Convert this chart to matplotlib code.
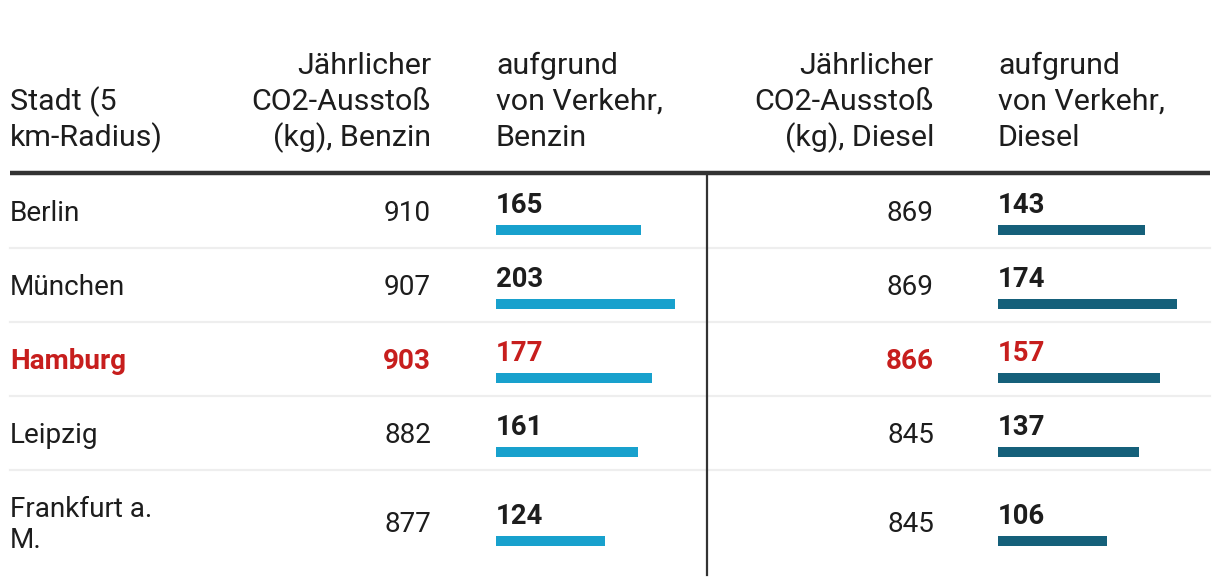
import matplotlib.pyplot as plt

plt.rcParams["font.family"] = ["Roboto", "DejaVu Sans"]

# --- Daten ---
staedte = ["Berlin", "München", "Hamburg", "Leipzig", "Frankfurt a.\nM."]
benzin_gesamt = [910, 907, 903, 882, 877]
benzin_verkehr = [165, 203, 177, 161, 124]
diesel_gesamt = [869, 869, 866, 845, 845]
diesel_verkehr = [143, 174, 157, 137, 106]
hervorgehoben = "Hamburg"

kopf = [
    ["Stadt (5", "km-Radius)"],
    ["Jährlicher", "CO2-Ausstoß", "(kg), Benzin"],
    ["aufgrund", "von Verkehr,", "Benzin"],
    ["Jährlicher", "CO2-Ausstoß", "(kg), Diesel"],
    ["aufgrund", "von Verkehr,", "Diesel"],
]

# --- Stil ---
W, H = 1220, 584
TEXT = "#1d1d1d"
RED = "#c71e1d"
BENZIN = "#18a1cd"
DIESEL = "#15607a"
FS = 20.1
FS_NUM = 19.8
FS_HEAD = 21.9

fig = plt.figure(figsize=(W / 100, H / 100), dpi=100)
ax = fig.add_axes([0, 0, 1, 1])
ax.set_xlim(0, W)
ax.set_ylim(H, 0)
ax.axis("off")

x_stadt = 10
x_benzin = 431
x_bar_b = 496
x_diesel = 934
x_bar_d = 998
bar_px = 179
x_vline = 707

# Kopfzeilen (unten ausgerichtet)
base_last = 146
step = 36
kopf_x = [(x_stadt, "left"), (x_benzin, "right"), (x_bar_b, "left"),
          (x_diesel, "right"), (x_bar_d, "left")]
for lines, (x, ha) in zip(kopf, kopf_x):
    n = len(lines)
    for i, line in enumerate(lines):
        ax.text(x, base_last - (n - 1 - i) * step, line, ha=ha, va="baseline",
                fontsize=FS_HEAD, color=TEXT)

ax.plot([10, 1210], [172.5, 172.5], color="#333333", lw=3.2, solid_capstyle="butt")

# Zeilen
top = 174
row_h = 74
extra = 31
row_centers = []
for name in staedte:
    h = row_h + extra * (name.count("\n"))
    row_centers.append(top + h / 2)
    top += h
    if name != staedte[-1]:
        ax.plot([10, 1210], [top - 0.5, top - 0.5], color="#eeeeee", lw=1.6, zorder=0)
bottom = top

ax.plot([x_vline, x_vline], [174, bottom], color="#333333", lw=1.6)

# Balken-Achsen
ax_b = fig.add_axes([x_bar_b / W, 0, bar_px / W, 1])
ax_d = fig.add_axes([x_bar_d / W, 0, bar_px / W, 1])
for a, vals, col in [(ax_b, benzin_verkehr, BENZIN), (ax_d, diesel_verkehr, DIESEL)]:
    a.set_xlim(0, max(vals))
    a.set_ylim(H, 0)
    a.axis("off")
    a.barh([c + 18.5 for c in row_centers], vals, height=10, color=col)
    for c, v, name in zip(row_centers, vals, staedte):
        farbe = RED if name == hervorgehoben else TEXT
        a.text(0, c + 2, str(v), ha="left", va="baseline", fontsize=FS_NUM,
               fontweight="bold", color=farbe)

for c, name, bg, dg in zip(row_centers, staedte, benzin_gesamt, diesel_gesamt):
    hl = name == hervorgehoben
    farbe = RED if hl else TEXT
    weight = "bold" if hl else "normal"
    lines = name.split("\n")
    n = len(lines)
    for i, line in enumerate(lines):
        ax.text(x_stadt, c + 10 + (i - (n - 1) / 2) * extra, line, ha="left",
                va="baseline", fontsize=FS, color=farbe, fontweight=weight)
    ax.text(x_benzin, c + 10, str(bg), ha="right", va="baseline", fontsize=FS,
            color=farbe, fontweight=weight)
    ax.text(x_diesel, c + 10, str(dg), ha="right", va="baseline", fontsize=FS,
            color=farbe, fontweight=weight)

fig.savefig("out.png", dpi=100)
